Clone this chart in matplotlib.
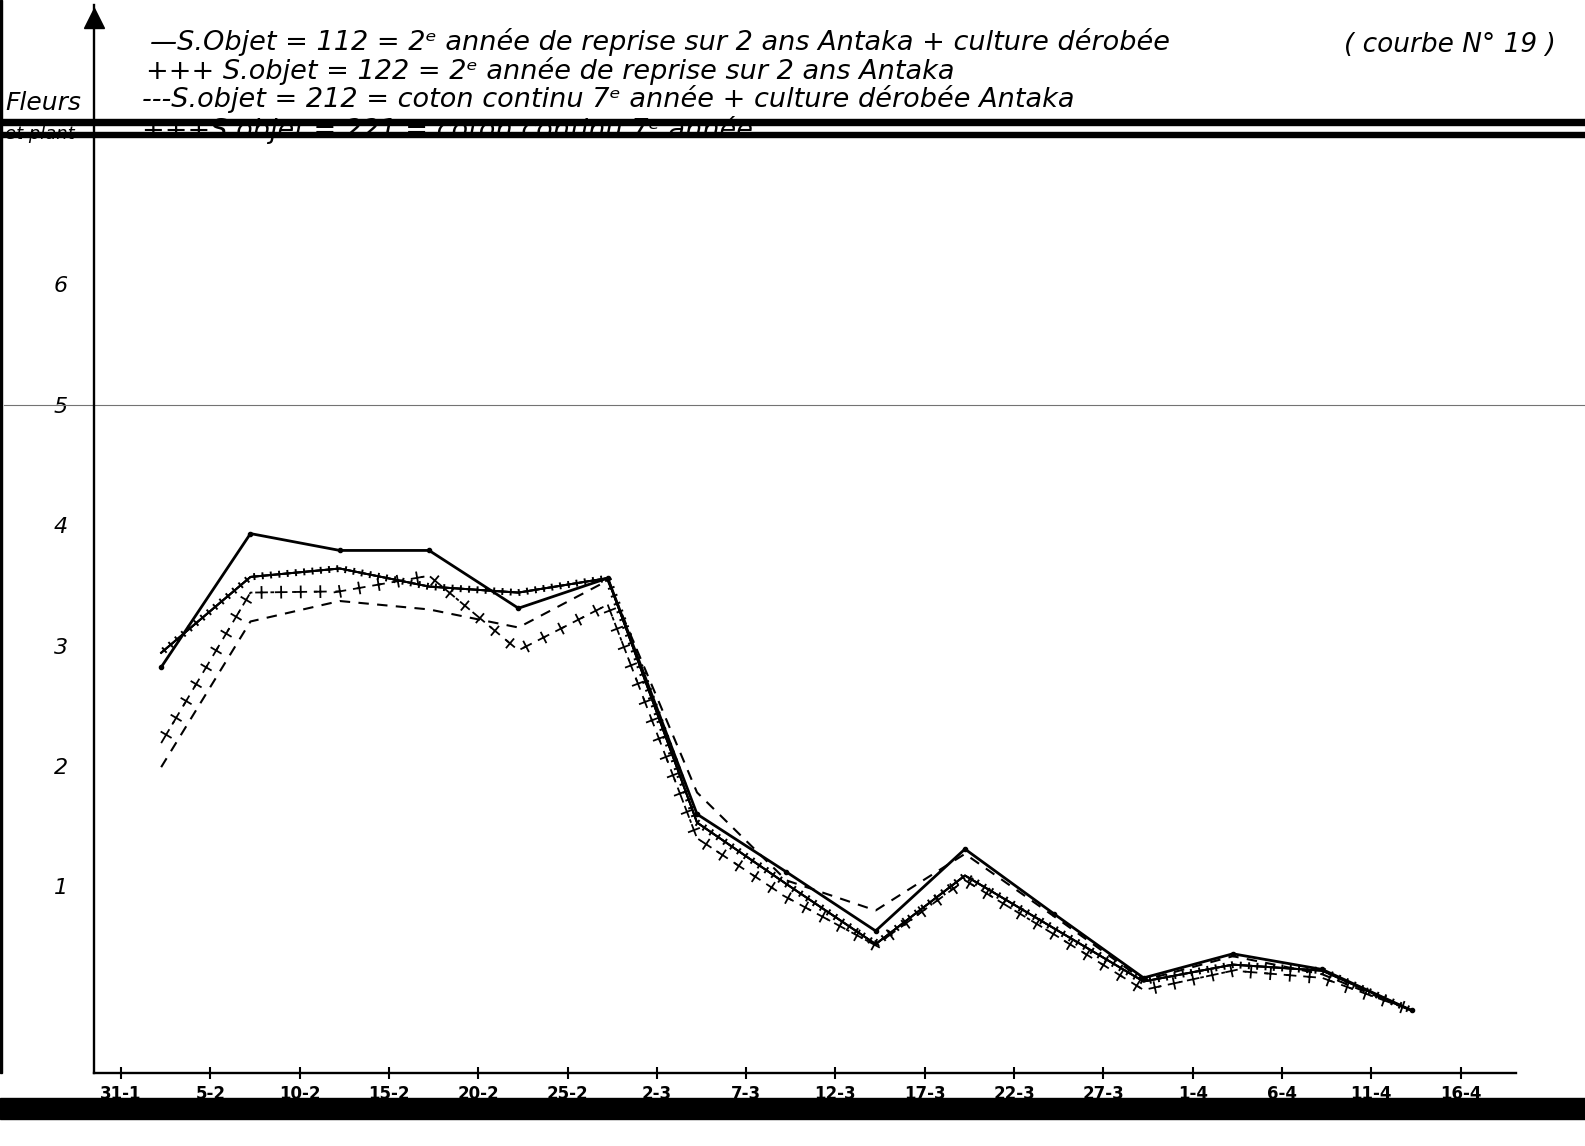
import matplotlib
matplotlib.use("Agg")
import matplotlib.pyplot as plt
import matplotlib.patheffects as pe
from matplotlib.patches import Rectangle

W, H = 1585, 1146

# jours comptés à partir du 31-1
jours = [2.25, 7.25, 12.25, 17.25, 22.25, 27.25, 32.25, 37.25,
         42.25, 47.25, 52.25, 57.25, 62.25, 67.25, 72.25]

obj_112 = [2.82, 3.93, 3.79, 3.79, 3.31, 3.56, 1.60, 1.12,
           0.63, 1.31, 0.77, 0.24, 0.44, 0.31, -0.03]
obj_122 = [2.94, 3.57, 3.64, 3.49, 3.44, 3.56, 1.53, 1.02,
           0.52, 1.09, 0.65, 0.21, 0.35, 0.30, -0.03]
obj_212 = [1.99, 3.20, 3.37, 3.30, 3.15, 3.54, 1.78, 1.05,
           0.80, 1.27, 0.75, 0.22, 0.42, 0.27, -0.03]
obj_221 = [2.19, 3.44, 3.45, 3.58, 2.96, 3.34, 1.40, 0.91,
           0.51, 1.05, 0.60, 0.14, 0.30, 0.24, -0.03]

xtick_pos = [0, 5, 10, 15, 20, 25, 30, 35, 40, 45, 50, 55, 60, 65, 70, 75]
xtick_lab = ["31-1", "5-2", "10-2", "15-2", "20-2", "25-2", "2-3", "7-3",
             "12-3", "17-3", "22-3", "27-3", "1-4", "6-4", "11-4", "16-4"]
ytick_pos = [1, 2, 3, 4, 5, 6]

legende = [
    "—S.Objet = 112 = 2ᵉ année de reprise sur 2 ans Antaka + culture dérobée",
    "+++ S.objet = 122 = 2ᵉ année de reprise sur 2 ans Antaka",
    "---S.objet = 212 = coton continu 7ᵉ année + culture dérobée Antaka",
    "+++S.objet = 221 = coton continu 7ᵉ année",
]


def fx(x):
    return x / W


def fy(y):
    return 1 - y / H


fig = plt.figure(figsize=(W / 100, H / 100), dpi=100)
ax = fig.add_axes([fx(94), fy(1073), (1516 - 94) / W, (1073 - 5) / H])
ax.set_xlim(-1.51, 78.1)
ax.set_ylim(-0.55, 8.32)

for s in ["top", "right"]:
    ax.spines[s].set_visible(False)
for s in ["left", "bottom"]:
    ax.spines[s].set_linewidth(1.7)
    ax.spines[s].set_color("black")

ax.set_xticks(xtick_pos, xtick_lab, fontweight="bold")
ax.tick_params(axis="x", direction="inout", length=9, width=1.5, pad=4, labelsize=12)
ax.set_yticks(ytick_pos, [str(v) for v in ytick_pos], fontstyle="italic")
ax.tick_params(axis="y", length=0, pad=19, labelsize=16)

# fleche en haut de l'axe
ax.plot([0], [0.988], marker="^", ms=15, color="black", transform=ax.transAxes, clip_on=False)

# trait gris au niveau 5
ax.axhline(5, xmin=-0.063, xmax=1.05, color="0.45", lw=0.8, clip_on=False)

# courbes
ax.plot(jours, obj_112, color="black", lw=2.0, marker="o", ms=3, zorder=4)
ax.plot(jours, obj_122, color="black", lw=1.4, zorder=4,
        path_effects=[pe.withTickedStroke(angle=90, spacing=6, length=0.3),
                      pe.withTickedStroke(angle=-90, spacing=6, length=0.3),
                      pe.Normal()])
ax.plot(jours, obj_212, color="black", lw=1.5, ls=(0, (5, 4)), zorder=3)
ax.plot(jours, obj_221, color="black", lw=1.3, ls=(0, (2, 10)), zorder=3)
ax.plot(jours, obj_221, color="black", lw=1.3, zorder=3,
        path_effects=[pe.TickedStroke(angle=90, spacing=14, length=0.28),
                      pe.TickedStroke(angle=-90, spacing=14, length=0.28),
                      pe.TickedStroke(angle=0, spacing=14, length=0.28),
                      pe.TickedStroke(angle=180, spacing=14, length=0.28)])

# legende manuscrite
ly = [42, 71, 99, 130]
lx = [150, 146, 142, 142]
for t, x, y in zip(legende, lx, ly):
    fig.text(fx(x), fy(y), t, fontsize=19.5, fontstyle="italic", va="center", ha="left")
fig.text(fx(1344), fy(45), "( courbe N° 19 )", fontsize=19, fontstyle="italic",
         va="center", ha="left")
fig.text(fx(5), fy(103), "Fleurs", fontsize=18, fontstyle="italic", va="center")
fig.text(fx(5), fy(134), "et plant", fontsize=13, fontstyle="italic", va="center")

# bandes noires du scan
fig.add_artist(Rectangle((0, fy(125)), 1, 6 / H, transform=fig.transFigure,
                         color="black", zorder=10))
fig.add_artist(Rectangle((0, fy(137)), 1, 5 / H, transform=fig.transFigure,
                         color="black", zorder=10))
fig.add_artist(Rectangle((0, fy(1119)), 1, 21 / H, transform=fig.transFigure,
                         color="black", zorder=10))
fig.add_artist(Rectangle((0, fy(1073)), 2 / W, 1073 / H, transform=fig.transFigure,
                         color="black", zorder=10))

fig.savefig("out.png", dpi=100)
